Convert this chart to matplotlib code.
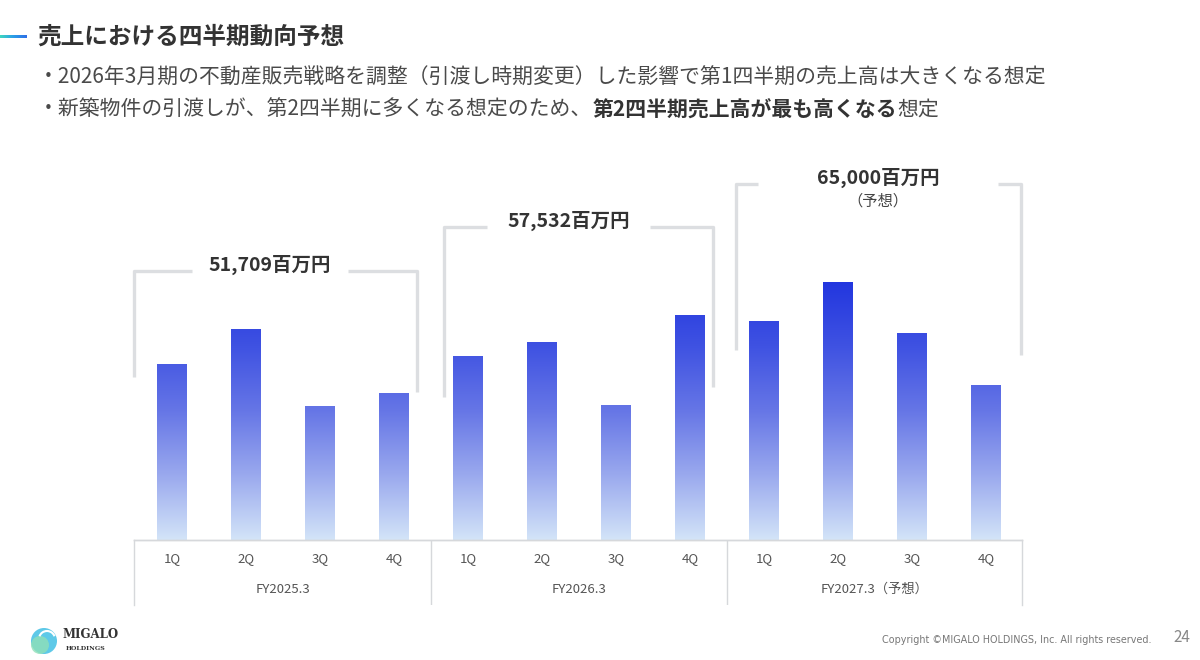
import matplotlib
matplotlib.use('Agg')
import matplotlib.pyplot as plt
import matplotlib.patches as patches
import numpy as np
from matplotlib.colors import LinearSegmentedColormap

plt.rcParams['font.family'] = ['Noto Sans CJK JP', 'DejaVu Sans']

# data (百万円)
quarters = ['1Q', '2Q', '3Q', '4Q']
fiscal_years = ['FY2025.3', 'FY2026.3', 'FY2027.3（予想）']
fy2025 = [13640, 16330, 10360, 11380]
fy2026 = [14280, 15360, 10430, 17460]
fy2027 = [16980, 20010, 16020, 11990]
totals = ['51,709百万円', '57,532百万円', '65,000百万円']
total_notes = ['', '', '（予想）']

title = '売上における四半期動向予想'
bullet1 = '・2026年3月期の不動産販売戦略を調整（引渡し時期変更）した影響で第1四半期の売上高は大きくなる想定'
bullet2_parts = [('・新築物件の引渡しが、第2四半期に多くなる想定のため、', 'normal', '#4a4a4a'),
                 ('第2四半期売上高が最も高くなる', 'bold', '#333333'),
                 ('想定', 'normal', '#4a4a4a')]

W, H = 1200, 660
fig = plt.figure(figsize=(12, 6.6), dpi=100)
fig.patch.set_facecolor('white')


# background overlay axes in pixel coords (for header / footer)
bg = fig.add_axes([0, 0, 1, 1])
bg.axis('off')

# title accent line (gradient)
grad_line = np.linspace(0, 1, 64).reshape(1, -1)
line_cmap = LinearSegmentedColormap.from_list('acc', ['#3fd6c0', '#2a9de8', '#2f6fe6'])
bg.imshow(grad_line, extent=[0, 27, 38.5, 36], cmap=line_cmap, aspect='auto')
bg.set_xlim(0, W)
bg.set_ylim(H, 0)

bg.text(37, 37, title, fontsize=17, fontweight='bold', color='#333333', va='center', ha='left')
bg.text(38, 78, bullet1, fontsize=15, color='#4a4a4a', va='center', ha='left')

prev = None
for txt, wt, col in bullet2_parts:
    if prev is None:
        prev = bg.text(38, 110, txt, fontsize=15, fontweight=wt, color=col, va='center', ha='left')
    else:
        prev = bg.annotate(txt, xy=(1, 0.5), xycoords=prev, fontsize=15, fontweight=wt,
                           color=col, va='center', ha='left')

# footer
bg.add_patch(patches.Circle((44, 641), 13, facecolor='#4cc3e6', edgecolor='none', alpha=0.9))
bg.add_patch(patches.Circle((40, 645), 9, facecolor='#8fe0b8', edgecolor='none', alpha=0.8))
bg.add_patch(patches.Arc((47, 639), 16, 16, theta1=200, theta2=340, color='white', lw=1.5))
bg.text(62, 635, 'MIGALO', fontsize=8.5, fontweight='bold', family='DejaVu Serif',
        color='#333333', va='center', ha='left')
bg.text(66, 649, 'HOLDINGS', fontsize=4.5, fontweight='bold', family='DejaVu Serif',
        color='#333333', va='center', ha='left')
bg.text(1152, 640, 'Copyright ©MIGALO HOLDINGS, Inc. All rights reserved.', fontsize=6.9,
        color='#777777', va='center', ha='right', family='DejaVu Sans')
bg.text(1190, 638, '24', fontsize=11, color='#888888', va='center', ha='right')

# bar chart axes: baseline at y=540 px, 74 px per bar slot
left_px, right_px, base_px, top_px = 134, 1022, 540, 160
ymax = 29450
ax = fig.add_axes([left_px / W, (H - base_px) / H, (right_px - left_px) / W, (base_px - top_px) / H])
ax.patch.set_alpha(0)

values = fy2025 + fy2026 + fy2027
xs = np.arange(len(values))
bar_cmap = LinearSegmentedColormap.from_list('bars', ['#d3e4f8', '#9aa9ee', '#6676e6', '#3f52e2', '#2236df'])
grad = np.linspace(0, 1, 256).reshape(-1, 1)
bars = ax.bar(xs, values, width=0.4, facecolor='none', edgecolor='none')
top_v = max(values)
for b in bars:
    im = ax.imshow(grad, extent=[b.get_x(), b.get_x() + b.get_width(), 0, top_v],
                   origin='lower', cmap=bar_cmap, aspect='auto', zorder=2)
    im.set_clip_path(b)

ax.set_xlim(-0.5135, 11.4865)
ax.set_ylim(0, ymax)
for s in ['top', 'left', 'right']:
    ax.spines[s].set_visible(False)
ax.spines['bottom'].set_color('#d6d8db')
ax.spines['bottom'].set_linewidth(1)
ax.set_yticks([])
ax.set_xticks(xs)
ax.set_xticklabels(quarters * 3, fontsize=9.5, color='#555555')
ax.tick_params(axis='x', length=0, pad=9)

# category box below bars
box = fig.add_axes([left_px / W, (H - 605) / H, (right_px - left_px) / W, 65 / H])
box.set_xlim(ax.get_xlim())
box.set_ylim(0, 1)
box.patch.set_alpha(0)
box.set_xticks([])
box.set_yticks([])
box.spines['bottom'].set_visible(False)
for s in ['top', 'left', 'right']:
    box.spines[s].set_color('#d6d8db')
    box.spines[s].set_linewidth(1)
for sep in [3.5, 7.5]:
    box.axvline(sep, color='#d6d8db', lw=1)
for i, fy in enumerate(fiscal_years):
    box.text(1.5 + 4 * i, 0.24, fy, fontsize=9.5, color='#555555', ha='center', va='center')

# brackets around each fiscal year: (x_left, x_right, y_top, y_left_end, y_right_end, gap_l, gap_r)
brackets = [(-0.5135, 3.31, 20850, 12630, 11470, 0.27, 2.38),
            (3.68, 7.31, 24280, 11110, 11880, 4.26, 6.46),
            (7.62, 11.47, 27590, 14720, 14340, 7.92, 11.16)]
bcol = '#dcdee1'
for (xl, xr, yt, yl, yr, gl, gr), lab, note in zip(brackets, totals, total_notes):
    ax.plot([xl, xl, gl], [yl, yt, yt], color=bcol, lw=2.4, clip_on=False, solid_capstyle='butt')
    ax.plot([gr, xr, xr], [yt, yt, yr], color=bcol, lw=2.4, clip_on=False, solid_capstyle='butt')
    cx = (gl + gr) / 2
    ax.text(cx, yt + 450, lab, fontsize=14, fontweight='bold', color='#333333',
            ha='center', va='center')
    if note:
        ax.text(cx, yt - 1320, note, fontsize=11, color='#444444', ha='center', va='center')

fig.savefig('out.png', dpi=100, facecolor='white')
